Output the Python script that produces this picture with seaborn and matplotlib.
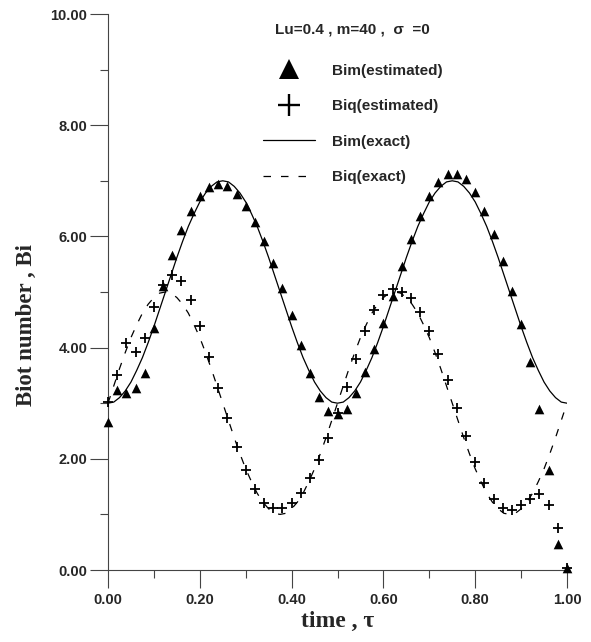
import pandas as pd
import seaborn as sns
import matplotlib.pyplot as plt
from matplotlib.lines import Line2D
from matplotlib.ticker import MultipleLocator, FormatStrFormatter

# estimated points (every 0.02 in tau)
tau_est = [0.00, 0.02, 0.04, 0.06, 0.08, 0.10, 0.12, 0.14, 0.16, 0.18,
           0.20, 0.22, 0.24, 0.26, 0.28, 0.30, 0.32, 0.34, 0.36, 0.38,
           0.40, 0.42, 0.44, 0.46, 0.48, 0.50, 0.52, 0.54, 0.56, 0.58,
           0.60, 0.62, 0.64, 0.66, 0.68, 0.70, 0.72, 0.74, 0.76, 0.78,
           0.80, 0.82, 0.84, 0.86, 0.88, 0.90, 0.92, 0.94, 0.96, 0.98, 1.00]
bim_est = [2.67, 3.23, 3.18, 3.27, 3.54, 4.35, 5.10, 5.67, 6.11, 6.46,
           6.73, 6.88, 6.95, 6.91, 6.77, 6.55, 6.26, 5.92, 5.53, 5.08,
           4.59, 4.05, 3.54, 3.12, 2.86, 2.80, 2.90, 3.19, 3.56, 3.98,
           4.44, 4.92, 5.46, 5.95, 6.37, 6.73, 6.98, 7.12, 7.12, 7.03,
           6.79, 6.46, 6.04, 5.56, 5.01, 4.43, 3.74, 2.90, 1.80, 0.47, 0.03]
biq_est = [3.03, 3.50, 4.08, 3.92, 4.17, 4.73, 5.12, 5.30, 5.19, 4.85,
           4.38, 3.83, 3.27, 2.73, 2.22, 1.79, 1.45, 1.21, 1.11, 1.11,
           1.21, 1.39, 1.65, 1.98, 2.37, 2.83, 3.30, 3.80, 4.29, 4.68,
           4.94, 5.05, 5.00, 4.90, 4.64, 4.30, 3.89, 3.41, 2.91, 2.41,
           1.95, 1.57, 1.27, 1.11, 1.08, 1.17, 1.28, 1.37, 1.17, 0.75, 0.03]

# exact curves (read every 0.0125 in tau)
tau_exact = [0.0000, 0.0125, 0.0250, 0.0375, 0.0500, 0.0625, 0.0750, 0.0875, 0.1000,
             0.1125, 0.1250, 0.1375, 0.1500, 0.1625, 0.1750, 0.1875, 0.2000,
             0.2125, 0.2250, 0.2375, 0.2500, 0.2625, 0.2750, 0.2875, 0.3000,
             0.3125, 0.3250, 0.3375, 0.3500, 0.3625, 0.3750, 0.3875, 0.4000,
             0.4125, 0.4250, 0.4375, 0.4500, 0.4625, 0.4750, 0.4875, 0.5000,
             0.5125, 0.5250, 0.5375, 0.5500, 0.5625, 0.5750, 0.5875, 0.6000,
             0.6125, 0.6250, 0.6375, 0.6500, 0.6625, 0.6750, 0.6875, 0.7000,
             0.7125, 0.7250, 0.7375, 0.7500, 0.7625, 0.7750, 0.7875, 0.8000,
             0.8125, 0.8250, 0.8375, 0.8500, 0.8625, 0.8750, 0.8875, 0.9000,
             0.9125, 0.9250, 0.9375, 0.9500, 0.9625, 0.9750, 0.9875, 1.0000]
bim_exact = [3.00, 3.02, 3.10, 3.22, 3.38, 3.59, 3.82, 4.09, 4.38,
             4.69, 5.00, 5.31, 5.62, 5.91, 6.18, 6.41, 6.62,
             6.78, 6.90, 6.98, 7.00, 6.98, 6.90, 6.78, 6.62,
             6.41, 6.18, 5.91, 5.62, 5.31, 5.00, 4.69, 4.38,
             4.09, 3.82, 3.59, 3.38, 3.22, 3.10, 3.02, 3.00,
             3.02, 3.10, 3.22, 3.38, 3.59, 3.82, 4.09, 4.38,
             4.69, 5.00, 5.31, 5.62, 5.91, 6.18, 6.41, 6.62,
             6.78, 6.90, 6.98, 7.00, 6.98, 6.90, 6.78, 6.62,
             6.41, 6.18, 5.91, 5.62, 5.31, 5.00, 4.69, 4.38,
             4.09, 3.82, 3.59, 3.38, 3.22, 3.10, 3.02, 3.00]
biq_exact = [3.00, 3.31, 3.62, 3.91, 4.18, 4.41, 4.62, 4.78, 4.90,
             4.98, 5.00, 4.98, 4.90, 4.78, 4.62, 4.41, 4.18,
             3.91, 3.62, 3.31, 3.00, 2.69, 2.38, 2.09, 1.82,
             1.59, 1.38, 1.22, 1.10, 1.02, 1.00, 1.02, 1.10,
             1.22, 1.38, 1.59, 1.82, 2.09, 2.38, 2.69, 3.00,
             3.31, 3.62, 3.91, 4.18, 4.41, 4.62, 4.78, 4.90,
             4.98, 5.00, 4.98, 4.90, 4.78, 4.62, 4.41, 4.18,
             3.91, 3.62, 3.31, 3.00, 2.69, 2.38, 2.09, 1.82,
             1.59, 1.38, 1.22, 1.10, 1.02, 1.00, 1.02, 1.10,
             1.22, 1.38, 1.59, 1.82, 2.09, 2.38, 2.69, 3.00]

labels = ["Bim(estimated)", "Biq(estimated)", "Bim(exact)", "Biq(exact)"]
legend_title = "Lu=0.4 , m=40 ,  σ  =0"

sns.set_theme(style="ticks")
plt.rcParams['font.family'] = ['Liberation Sans', 'DejaVu Sans']

fig, ax = plt.subplots(figsize=(5.91, 6.42), dpi=100)
fig.subplots_adjust(left=108/591, right=567/591, bottom=1-570/642, top=1-14/642)

dash = (0, (6, 8))
sns.lineplot(x=tau_exact, y=bim_exact, color="black", lw=0.9, ax=ax)
sns.lineplot(x=tau_exact, y=biq_exact, color="black", lw=0.9, linestyle=dash, ax=ax)
sns.scatterplot(x=tau_est, y=bim_est, marker="^", s=48, color="black",
                edgecolor="black", linewidth=0, ax=ax, zorder=3)
sns.scatterplot(x=tau_est, y=biq_est, marker="+", s=62, color="black",
                linewidth=1.3, ax=ax, zorder=3)

ax.set_xlim(0, 1.0)
ax.set_ylim(0, 10.0)
ax.xaxis.set_major_locator(MultipleLocator(0.2))
ax.xaxis.set_minor_locator(MultipleLocator(0.1))
ax.yaxis.set_major_locator(MultipleLocator(2))
ax.yaxis.set_minor_locator(MultipleLocator(1))
ax.xaxis.set_major_formatter(FormatStrFormatter("%.2f"))
ax.yaxis.set_major_formatter(FormatStrFormatter("%.2f"))
ax.tick_params(which="major", length=13, width=0.8, color="#444444",
               labelsize=10.5, direction="out")
ax.tick_params(which="minor", length=6, width=0.8, color="#444444", direction="out")
ax.tick_params(axis="y", pad=2)
for lab in ax.get_xticklabels() + ax.get_yticklabels():
    lab.set_fontweight("bold")
for side in ["top", "right"]:
    ax.spines[side].set_visible(False)
for side in ["left", "bottom"]:
    ax.spines[side].set_linewidth(0.8)
    ax.spines[side].set_color("#444444")
for coll in ax.collections:
    coll.set_clip_on(False)

ax.set_xlabel("time , τ", family="Liberation Serif", fontweight="bold",
              fontsize=17, labelpad=3)
ax.set_ylabel("Biot number , Bi", family="Liberation Serif", fontweight="bold",
              fontsize=16.5)
ax.yaxis.set_label_coords(-0.155, 0.44)

handles = [
    Line2D([], [], marker="^", ls="", color="black", ms=14, mew=0),
    Line2D([], [], marker="+", ls="", color="black", ms=16, mew=1.7),
    Line2D([], [], color="black", lw=0.9),
    Line2D([], [], color="black", lw=0.9, linestyle=dash),
]
leg = ax.legend(handles, labels, title=legend_title, frameon=False,
                loc="upper left", bbox_to_anchor=(263/591, 1-22/642),
                bbox_transform=fig.transFigure, borderaxespad=0, borderpad=0,
                handlelength=3.4, handletextpad=1.1, labelspacing=1.4,
                prop={"weight": "bold", "size": 11})
leg.get_title().set_fontweight("bold")
leg.get_title().set_fontsize(11)
leg._legend_box.sep = 20

plt.savefig("out.png", dpi=100)
